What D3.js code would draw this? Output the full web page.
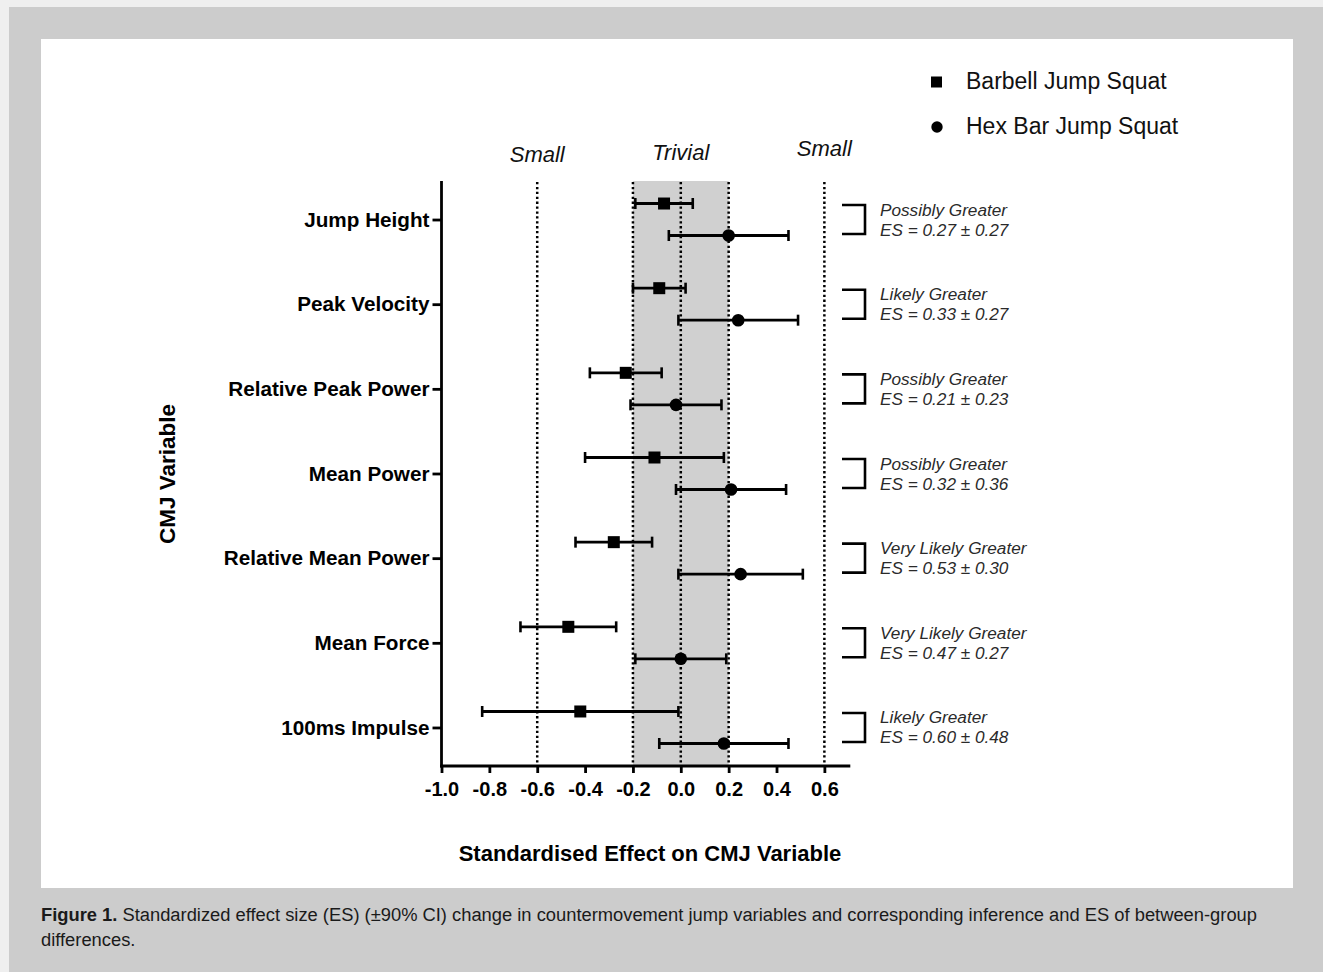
<!DOCTYPE html>
<html>
<head>
<meta charset="utf-8">
<script src="https://cdn.jsdelivr.net/npm/d3@7"></script>
<style>
  html, body { margin: 0; padding: 0; background: #efefef; }
  svg { display: block; font-family: "Liberation Sans", Arial, Helvetica, sans-serif; }
</style>
</head>
<body>
<svg id="chart" width="1323" height="972"></svg>
<script>
// ---------------- data ----------------
const categories = ["Jump Height", "Peak Velocity", "Relative Peak Power", "Mean Power",
                    "Relative Mean Power", "Mean Force", "100ms Impulse"];
const barbellES = [-0.07, -0.09, -0.23, -0.11, -0.28, -0.47, -0.42];
const barbellLo = [-0.19, -0.20, -0.38, -0.40, -0.44, -0.67, -0.83];
const barbellHi = [0.05, 0.02, -0.08, 0.18, -0.12, -0.27, -0.01];
const hexES = [0.20, 0.24, -0.02, 0.21, 0.25, 0.00, 0.18];
const hexLo = [-0.05, -0.01, -0.21, -0.02, -0.01, -0.19, -0.09];
const hexHi = [0.45, 0.49, 0.17, 0.44, 0.51, 0.19, 0.45];
const inferences = ["Possibly Greater", "Likely Greater", "Possibly Greater", "Possibly Greater",
                    "Very Likely Greater", "Very Likely Greater", "Likely Greater"];
const esLabels = ["ES = 0.27 \u00b1 0.27", "ES = 0.33 \u00b1 0.27", "ES = 0.21 \u00b1 0.23",
                  "ES = 0.32 \u00b1 0.36", "ES = 0.53 \u00b1 0.30", "ES = 0.47 \u00b1 0.27",
                  "ES = 0.60 \u00b1 0.48"];
const seriesNames = ["Barbell Jump Squat", "Hex Bar Jump Squat"];
const xTickValues = [-1.0, -0.8, -0.6, -0.4, -0.2, 0.0, 0.2, 0.4, 0.6];
const xTickLabels = ["-1.0", "-0.8", "-0.6", "-0.4", "-0.2", "0.0", "0.2", "0.4", "0.6"];
const refLines = [-0.6, -0.2, 0.0, 0.2, 0.6];
const trivialBand = [-0.2, 0.2];
const zoneNames = ["Small", "Trivial", "Small"];
const zoneValues = [-0.6, 0.0, 0.6];
const xTitle = "Standardised Effect on CMJ Variable";
const yTitle = "CMJ Variable";
const captionBold = "Figure 1.";
const captionLine1 = " Standardized effect size (ES) (\u00b190% CI) change in countermovement jump variables and corresponding inference and ES of between-group";
const captionLine2 = "differences.";

// ---------------- layout ----------------
const svg = d3.select("#chart");
const W = 1323, H = 972;

// page background
svg.append("rect").attr("x", 0).attr("y", 0).attr("width", W).attr("height", H).attr("fill", "#efefef");
svg.append("rect").attr("x", 9).attr("y", 7).attr("width", W - 9).attr("height", H - 7).attr("fill", "#cccccc");
// white panel
svg.append("rect").attr("x", 41).attr("y", 39).attr("width", 1293 - 41).attr("height", 888 - 39).attr("fill", "#ffffff");

const plotTop = 181, plotBottom = 766;
const x = d3.scaleLinear().domain([-1, 0.7]).range([441.5, 848.3]);
const y = d3.scalePoint().domain(categories).range([plotTop, plotBottom]).padding(0.455);

const g = svg.append("g");

// trivial band
g.append("rect")
  .attr("x", x(trivialBand[0]))
  .attr("y", plotTop)
  .attr("width", x(trivialBand[1]) - x(trivialBand[0]))
  .attr("height", plotBottom - plotTop)
  .attr("fill", "#d0d0d0");

// dotted reference lines
g.selectAll(".ref").data(refLines).join("line")
  .attr("x1", d => x(d)).attr("x2", d => x(d))
  .attr("y1", plotTop + 1).attr("y2", plotBottom)
  .attr("stroke", "#000").attr("stroke-width", 2.5)
  .attr("stroke-dasharray", "2.3,2.6");

// zone labels
g.selectAll(".zone").data(zoneNames).join("text")
  .attr("x", (d, i) => x(zoneValues[i]))
  .attr("y", (d, i) => [162, 160, 156][i])
  .attr("text-anchor", "middle")
  .attr("font-style", "italic")
  .attr("font-size", 22)
  .attr("fill", "#111")
  .text(d => d);

// x axis
const xAxis = d3.axisBottom(x)
  .tickValues(xTickValues)
  .tickFormat((d, i) => xTickLabels[i])
  .tickSizeInner(7).tickSizeOuter(0).tickPadding(9);
const gx = g.append("g").attr("transform", `translate(0,${plotBottom})`).call(xAxis);
gx.select(".domain").attr("stroke", "#000").attr("stroke-width", 2.8)
  .attr("d", `M${x(-1) - 1.4},0H${x(0.7) + 2}`);
gx.selectAll(".tick line").attr("stroke", "#000").attr("stroke-width", 2.8);
gx.selectAll(".tick text").attr("font-size", 20).attr("font-weight", "bold")
  .attr("fill", "#000").attr("font-family", "Liberation Sans, Arial, sans-serif");

// y axis
const yAxis = d3.axisLeft(y).tickSizeInner(9).tickSizeOuter(0).tickPadding(3);
const gy = g.append("g").attr("transform", `translate(${x(-1)},0)`).call(yAxis);
gy.select(".domain").attr("stroke", "#000").attr("stroke-width", 2.8)
  .attr("d", `M0,${plotTop}V${plotBottom + 1.4}`);
gy.selectAll(".tick line").attr("stroke", "#000").attr("stroke-width", 2.8);
gy.selectAll(".tick text").attr("font-size", 20.7).attr("font-weight", "bold")
  .attr("fill", "#000").attr("font-family", "Liberation Sans, Arial, sans-serif");

// axis titles
svg.append("text")
  .attr("x", 650).attr("y", 861)
  .attr("text-anchor", "middle")
  .attr("font-size", 22).attr("font-weight", "bold")
  .text(xTitle);
svg.append("text")
  .attr("transform", "translate(175,474) rotate(-90)")
  .attr("text-anchor", "middle")
  .attr("font-size", 22.5).attr("font-weight", "bold")
  .text(yTitle);

// error bars + markers
const series = [
  { es: barbellES, lo: barbellLo, hi: barbellHi, off: -16, shape: "square" },
  { es: hexES, lo: hexLo, hi: hexHi, off: 16, shape: "circle" }
];
series.forEach(s => {
  const rows = categories.map((c, i) => ({ c, es: s.es[i], lo: s.lo[i], hi: s.hi[i] }));
  const sg = g.append("g");
  sg.selectAll(".bar").data(rows).join("line")
    .attr("x1", d => x(d.lo)).attr("x2", d => x(d.hi))
    .attr("y1", d => y(d.c) + s.off).attr("y2", d => y(d.c) + s.off)
    .attr("stroke", "#000").attr("stroke-width", 2.8);
  sg.selectAll(".capL").data(rows).join("line")
    .attr("x1", d => x(d.lo)).attr("x2", d => x(d.lo))
    .attr("y1", d => y(d.c) + s.off - 5.5).attr("y2", d => y(d.c) + s.off + 5.5)
    .attr("stroke", "#000").attr("stroke-width", 2.6);
  sg.selectAll(".capR").data(rows).join("line")
    .attr("x1", d => x(d.hi)).attr("x2", d => x(d.hi))
    .attr("y1", d => y(d.c) + s.off - 5.5).attr("y2", d => y(d.c) + s.off + 5.5)
    .attr("stroke", "#000").attr("stroke-width", 2.6);
  if (s.shape === "square") {
    sg.selectAll(".mk").data(rows).join("rect")
      .attr("x", d => x(d.es) - 6).attr("y", d => y(d.c) + s.off - 6)
      .attr("width", 12).attr("height", 12).attr("fill", "#000");
  } else {
    sg.selectAll(".mk").data(rows).join("circle")
      .attr("cx", d => x(d.es)).attr("cy", d => y(d.c) + s.off)
      .attr("r", 6.3).attr("fill", "#000");
  }
});

// between-group brackets + annotations
const ag = svg.append("g");
categories.forEach((c, i) => {
  const cy = y(c);
  ag.append("path")
    .attr("d", `M842,${cy - 14.5}H865V${cy + 14.5}H842`)
    .attr("fill", "none").attr("stroke", "#000").attr("stroke-width", 2.6);
  ag.append("text")
    .attr("x", 880).attr("y", cy - 4)
    .attr("font-size", 17.2).attr("font-style", "italic").attr("fill", "#2a2a2a")
    .text(inferences[i]);
  ag.append("text")
    .attr("x", 880).attr("y", cy + 16)
    .attr("font-size", 17.2).attr("font-style", "italic").attr("fill", "#2a2a2a")
    .text(esLabels[i]);
});

// legend
const lg = svg.append("g");
lg.append("rect").attr("x", 931).attr("y", 76.5).attr("width", 11).attr("height", 11).attr("fill", "#000");
lg.append("circle").attr("cx", 937).attr("cy", 127).attr("r", 5.7).attr("fill", "#000");
lg.selectAll(".lt").data(seriesNames).join("text")
  .attr("x", 966).attr("y", (d, i) => [89, 134][i])
  .attr("font-size", 23).attr("fill", "#111")
  .text(d => d);

// caption
const cap1 = svg.append("text").attr("x", 41).attr("y", 921)
  .attr("font-size", 18).attr("fill", "#1a1a1a");
cap1.append("tspan").attr("font-weight", "bold").text(captionBold);
cap1.append("tspan").text(captionLine1);
const natural = cap1.node().getComputedTextLength();
const target = 1257 - 41;
const ratio = target / natural;
cap1.attr("textLength", target).attr("lengthAdjust", "spacingAndGlyphs");
const cap2 = svg.append("text").attr("x", 41).attr("y", 946)
  .attr("font-size", 18).attr("fill", "#1a1a1a")
  .text(captionLine2);
const n2 = cap2.node().getComputedTextLength();
cap2.attr("textLength", n2 * ratio).attr("lengthAdjust", "spacingAndGlyphs");
</script>
</body>
</html>
